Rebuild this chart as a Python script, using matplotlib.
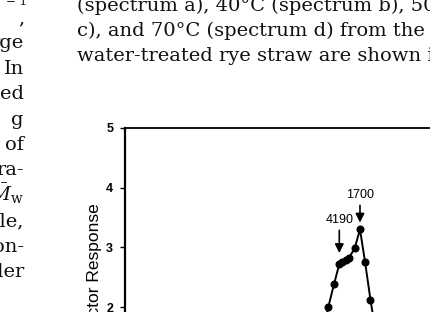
import numpy as np
import matplotlib.pyplot as plt

# data (elution volume in ml, detector response)
volume = [18.86, 19.36, 19.90, 20.41, 20.71, 21.00, 21.36, 21.88, 22.38, 22.86, 23.38, 23.86]
response = [1.60, 2.00, 2.38, 2.72, 2.75, 2.79, 2.83, 2.99, 3.30, 2.76, 2.12, 1.60]
yticks = [0, 1, 2, 3, 4, 5]

# peak labels (molecular weight) and the point each arrow marks
peak_labels = ["1700", "4190"]
peak_index = [8, 3]

# surrounding page text
body_lines = ["(spectrum a), 40°C (spectrum b), 50°C (spectrum",
              "c), and 70°C (spectrum d) from the alkali",
              "water-treated rye straw are shown in Fig."]
left_words = [",", "rge", "In", "ed", "g", "of", "ra-", r"$\bar{M}_{\rm w}$", "ble,", "on-", "der"]

W, H = 430, 312
fig = plt.figure(figsize=(W / 100, H / 100), dpi=100)
fig.patch.set_facecolor("white")

# axes is bigger than the crop: only the top-left part shows
ax = fig.add_axes([125 / W, 1 - 426.5 / H, 420 / W, 298.5 / H])
ax.plot(volume, response, color="black", lw=1.4, marker="o", ms=4.8,
        mfc="black", mec="black")
ax.set_xlim(0, 40)
ax.set_ylim(0, 5)
ax.set_yticks(yticks)
ax.set_yticklabels([str(t) for t in yticks], fontfamily="Liberation Sans",
                   fontweight="bold", fontsize=9)
ax.tick_params(axis="y", direction="out", length=3.5, width=1, pad=5)
ax.tick_params(axis="x", bottom=False, labelbottom=False)
ax.spines["left"].set_linewidth(1.6)
ax.spines["top"].set_linewidth(1.3)
ax.set_ylabel("Detector Response", fontfamily="Liberation Sans", fontsize=12.5, labelpad=3)

# arrows pointing at the peaks
for lab, i, off, shr in zip(peak_labels, peak_index, [24.7, 31.7], [5, 8]):
    ax.annotate(lab, xy=(volume[i], response[i]), xytext=(0, off),
                textcoords="offset points", ha="center", va="center",
                fontfamily="Liberation Sans", fontsize=9,
                arrowprops=dict(arrowstyle="-|>", color="black", lw=1.2,
                                mutation_scale=13, shrinkA=1, shrinkB=shr))

# page text around the figure (the scan is a bit wide, DejaVu Serif fits it)
serif = dict(fontfamily="DejaVu Serif", fontsize=14, color="#111111", va="baseline")
for k, line in enumerate(body_lines):
    fig.text(77 / W, 1 - (10.7 + 25 * k) / H, line, ha="left", **serif)

fig.text(16 / W, 1 - 5 / H, "− 1", fontfamily="DejaVu Serif", fontsize=8.5,
         color="#111111", ha="center", va="baseline")
for k, word in enumerate(left_words):
    fig.text(24 / W, 1 - (23 + 25.4 * k) / H, word, ha="right",
             math_fontfamily="dejavuserif", **serif)

fig.savefig("out.png", dpi=100)
